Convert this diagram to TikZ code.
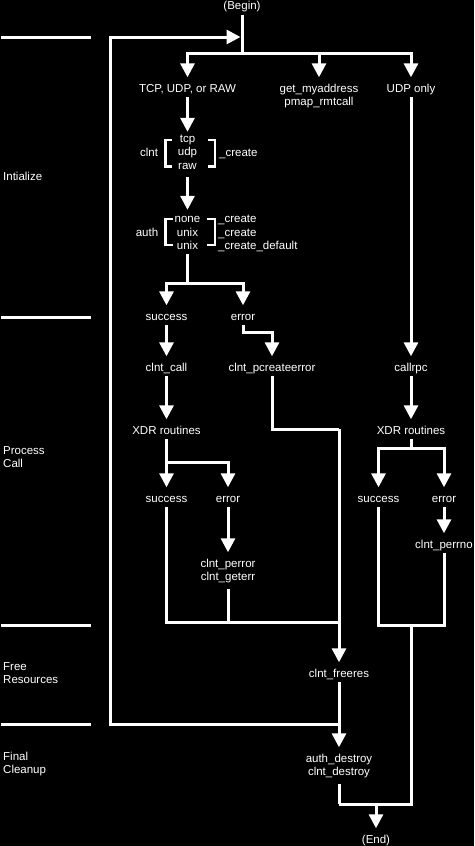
\documentclass[tikz,border=0pt]{standalone}
\usepackage{fontspec}
\setmainfont{Liberation Sans}
\usetikzlibrary{arrows.meta}
\newcommand{\mylinesc}[1]{\begin{tabular}[t]{@{}c@{}}#1\end{tabular}}
\newcommand{\mylinesl}[1]{\begin{tabular}[t]{@{}l@{}}#1\end{tabular}}
\begin{document}
\begin{tikzpicture}[x=1pt,y=-1pt,
  every node/.style={text=white, font=\fontsize{11.5}{13.5}\selectfont, inner xsep=1pt, inner ysep=4.5pt},
  txt/.style={anchor=base, text height=10pt, text depth=0.5pt},
  lbl/.style={anchor=base west, inner sep=0pt},
  conn/.style={draw=white, line width=3pt},
  arr/.style={conn, -{Triangle[width=14pt,length=14pt]}},
  brk/.style={draw=white, line width=2.6pt},
  div/.style={draw=white, line width=3pt}]
\fill[black] (0,0) rectangle (474,846);
\useasboundingbox (0,0) rectangle (474,846);

% section dividers
\foreach \yy in {37,317,625,724} \draw[div] (1,\yy) -- (91,\yy);

% section labels
\node[lbl] (lab1) at (3,180) {Intialize};
\node[lbl] (lab2) at (3,454) {\mylinesl{Process\\Call}};
\node[lbl] (lab3) at (3,670) {\mylinesl{Free\\Resources}};
\node[lbl] (lab4) at (3,760) {\mylinesl{Final\\Cleanup}};

% nodes
\node[txt] (begin) at (242,9.5) {(Begin)};
\node[txt] (tcp) at (187.5,92) {TCP, UDP, or RAW};
\node[txt, text depth=14pt] (getmy) at (319,92) {\mylinesc{get\_myaddress\\pmap\_rmtcall}};
\node[txt] (udponly) at (411,92) {UDP only};
\node[txt] (clntw) at (149,156.7) {clnt};
\node[txt, text height=5.5pt, text depth=30.5pt] (clntopts) at (187.5,142) {\mylinesc{tcp\\udp\\raw}};
\node[lbl] (clntc) at (219,156.7) {\_create};
\node[txt] (authw) at (147,236) {auth};
\node[txt, text height=8.2pt, text depth=27pt] (authopts) at (187.5,222.7) {\mylinesc{none\\unix\\unix}};
\node[lbl] (authc) at (218,222.7) {\mylinesl{\_create\\\_create\\\_create\_default}};
\node[txt] (suc1) at (166.5,320) {success};
\node[txt] (err1) at (243,320) {error};
\node[txt] (call) at (166.5,371) {clnt\_call};
\node[txt] (pcreate) at (272,371) {clnt\_pcreateerror};
\node[txt] (callrpc) at (411,371) {callrpc};
\node[txt] (xdr1) at (166.5,434) {XDR routines};
\node[txt] (xdr2) at (411,434) {XDR routines};
\node[txt] (suc2) at (166.5,502) {success};
\node[txt] (err2) at (228,502) {error};
\node[txt] (suc3) at (378.5,502) {success};
\node[txt] (err3) at (444,502) {error};
\node[txt, text depth=17pt] (perror) at (228,567) {\mylinesc{clnt\_perror\\clnt\_geterr}};
\node[txt] (perrno) at (444,548) {clnt\_perrno};
\node[txt] (freeres) at (339,677) {clnt\_freeres};
\node[txt, text depth=17.5pt] (destroy) at (339,762) {\mylinesc{auth\_destroy\\clnt\_destroy}};
\node[txt] (end) at (376,843) {(End)};

% brackets
\draw[brk] (171.5,140) -- (165.5,140) -- (165.5,166.7) -- (171.5,166.7);
\draw[brk] (207.5,140) -- (214.8,140) -- (214.8,166.7) -- (207.5,166.7);
\draw[brk] (172.7,219) -- (165.5,219) -- (165.5,245) -- (172.7,245);
\draw[brk] (206.5,219) -- (214.8,219) -- (214.8,245) -- (206.5,245);

% junction coordinates
\coordinate (jb) at (242,53);
\coordinate (ja) at (187.5,283);
\coordinate (c1) at (272,332);
\coordinate (c2) at (339,429);
\coordinate (jx1) at (166.5,462);
\coordinate (jx2) at (411,448);
\coordinate (c3) at (339,622.5);
\coordinate (c4) at (411,625);
\coordinate (c5) at (339,804);
\coordinate (c6) at (376,804);
\coordinate (c7) at (339,724);
\coordinate (loopcorner) at (110,37);
\coordinate (looptip) at (240.5,37);

% connectors
\draw[conn] (begin) -- (jb);
\draw[arr] (jb) -| (tcp);
\draw[arr] (jb) -| (getmy);
\draw[arr] (jb) -| (udponly);
\draw[arr] (tcp) -- (clntopts);
\draw[arr] (clntopts) -- (authopts);
\draw[conn] (authopts) -- (ja);
\draw[arr] (ja) -| (suc1);
\draw[arr] (ja) -| (err1);
\draw[arr] (err1) |- (c1) -- (pcreate);
\draw[arr] (suc1) -- (call);
\draw[arr] (call) -- (xdr1);
\draw[arr] (udponly) -- (callrpc);
\draw[arr] (callrpc) -- (xdr2);
\draw[conn] (pcreate) |- (c2);
\draw[arr] (c2) -- (freeres);
\draw[arr] (xdr1) -- (suc2);
\draw[arr] (jx1) -| (err2);
\draw[conn] (xdr2) -- (jx2);
\draw[arr] (jx2) -| (suc3);
\draw[arr] (jx2) -| (err3);
\draw[arr] (err2) -- (perror);
\draw[arr] (err3) -- (perrno);
\draw[conn] (suc2) |- (c3);
\draw[conn] (perror) -- (perror.south |- c3);
\draw[conn] (suc3) |- (c4) -| (perrno);
\draw[conn] (c4) |- (c5);
\draw[conn] (destroy) -- (c5);
\draw[arr] (c6) -- (end);
\draw[arr] (freeres) -- (destroy);
\draw[arr] (c7) -| (loopcorner) -- (looptip);
\end{tikzpicture}
\end{document}
